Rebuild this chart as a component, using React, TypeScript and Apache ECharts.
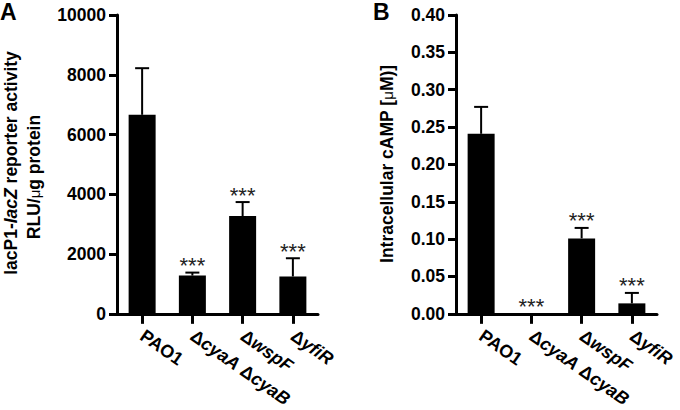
import React, { useEffect, useRef } from "react";
import * as echarts from "echarts";

const categories = ["PAO1", "ΔcyaA ΔcyaB", "ΔwspF", "ΔyfiR"];
const activityMean = [6660, 1280, 3270, 1250];
const activityUpper = [8220, 1380, 3740, 1860];
const activitySig = ["", "***", "***", "***"];
const campMean = [0.241, 0, 0.101, 0.014];
const campUpper = [0.277, 0, 0.115, 0.028];
const campSig = ["", "***", "***", "***"];

const FONT = "'Liberation Sans', Arial, Helvetica, sans-serif";

function catFormatter(v: string) {
  if (v === "PAO1") return "{n|PAO1}";
  return v
    .split(" ")
    .map((p) => "{d|Δ}{i|" + p.slice(1) + "}")
    .join("{n| }");
}

const catRich = {
  n: { fontFamily: FONT, fontWeight: "bold", fontSize: 18, color: "#000" },
  d: { fontFamily: FONT, fontWeight: "bold", fontSize: 18, color: "#000" },
  i: { fontFamily: FONT, fontWeight: "bold", fontStyle: "italic", fontSize: 18, color: "#000" },
};

function errSeries(idx: number, means: number[], uppers: number[], sig: string[]) {
  return {
    type: "custom",
    xAxisIndex: idx,
    yAxisIndex: idx,
    z: 5,
    data: means.map((m, i) => [i, m, uppers[i]]),
    renderItem: (params: any, api: any) => {
      const i = api.value(0);
      const m = api.value(1);
      const e = api.value(2);
      const top = api.coord([i, e]);
      const base = api.coord([i, m]);
      const children: any[] = [];
      if (e > m) {
        children.push({
          type: "line",
          shape: { x1: top[0], y1: base[1], x2: top[0], y2: top[1] },
          style: { stroke: "#000", lineWidth: 2 },
        });
        children.push({
          type: "line",
          shape: { x1: top[0] - 7, y1: top[1], x2: top[0] + 7, y2: top[1] },
          style: { stroke: "#000", lineWidth: 2 },
        });
      }
      const s = sig[params.dataIndex];
      if (s) {
        children.push({
          type: "text",
          x: top[0],
          y: top[1] - 7,
          style: {
            text: s,
            fontFamily: FONT,
            fontSize: 22,
            fill: "#222",
            align: "center",
            verticalAlign: "middle",
          },
        });
      }
      return { type: "group", children };
    },
  };
}

export default function App() {
  const ref = useRef<HTMLDivElement>(null);
  useEffect(() => {
    document.body.style.margin = "0";
    const chart = echarts.init(ref.current!, undefined, { renderer: "svg" });
    const axisLine = { show: true, lineStyle: { color: "#000", width: 3 } };
    const xAxisCommon = (gi: number) => ({
      type: "category",
      gridIndex: gi,
      data: categories,
      axisLine,
      axisTick: { show: true, alignWithLabel: true, length: 10, lineStyle: { color: "#000", width: 3 } },
      axisLabel: {
        interval: 0,
        rotate: -35,
        margin: 20,
        formatter: catFormatter,
        rich: catRich,
      },
      splitLine: { show: false },
    });
    const yLabel = {
      fontFamily: FONT,
      fontWeight: "bold",
      fontSize: 17.5,
      color: "#000",
      margin: 11,
    };
    chart.setOption({
      animation: false,
      backgroundColor: "#fff",
      grid: [
        { left: 117, top: 15, width: 201, height: 302 },
        { left: 456, top: 15, width: 201, height: 300 },
      ],
      xAxis: [xAxisCommon(0), xAxisCommon(1)],
      yAxis: [
        {
          type: "value",
          gridIndex: 0,
          min: 0,
          max: 10000,
          interval: 2000,
          axisLine,
          axisTick: { show: true, length: 8, lineStyle: { color: "#000", width: 3 } },
          axisLabel: { ...yLabel, formatter: (v: number) => String(v) },
          splitLine: { show: false },
        },
        {
          type: "value",
          gridIndex: 1,
          min: 0,
          max: 0.4,
          interval: 0.05,
          axisLine,
          axisTick: { show: true, length: 8, lineStyle: { color: "#000", width: 3 } },
          axisLabel: { ...yLabel, formatter: (v: number) => v.toFixed(2) },
          splitLine: { show: false },
        },
      ],
      series: [
        {
          type: "bar",
          xAxisIndex: 0,
          yAxisIndex: 0,
          data: activityMean,
          barWidth: 27,
          itemStyle: { color: "#000" },
        },
        errSeries(0, activityMean, activityUpper, activitySig),
        {
          type: "bar",
          xAxisIndex: 1,
          yAxisIndex: 1,
          data: campMean,
          barWidth: 27,
          itemStyle: { color: "#000" },
        },
        errSeries(1, campMean, campUpper, campSig),
      ],
      graphic: [
        {
          type: "text",
          left: 0,
          top: 0,
          style: { text: "A", fontFamily: FONT, fontWeight: "bold", fontSize: 23, fill: "#000" },
        },
        {
          type: "text",
          left: 373,
          top: 0,
          style: { text: "B", fontFamily: FONT, fontWeight: "bold", fontSize: 23, fill: "#000" },
        },
        {
          type: "text",
          x: 11,
          y: 163,
          rotation: Math.PI / 2,
          style: {
            text: "{n|lacP1-}{i|lacZ}{n| reporter activity}",
            align: "center",
            verticalAlign: "middle",
            rich: {
              n: { fontFamily: FONT, fontWeight: "bold", fontSize: 17.5, fill: "#000" },
              i: { fontFamily: FONT, fontWeight: "bold", fontStyle: "italic", fontSize: 17.5, fill: "#000" },
            },
          },
        },
        {
          type: "text",
          x: 34,
          y: 177,
          rotation: Math.PI / 2,
          style: {
            text: "{n|RLU/}{m|μ}{n|g protein}",
            align: "center",
            verticalAlign: "middle",
            rich: {
              n: { fontFamily: FONT, fontWeight: "bold", fontSize: 17.5, fill: "#000" },
              m: { fontFamily: FONT, fontWeight: "normal", fontSize: 15, fill: "#000" },
            },
          },
        },
        {
          type: "text",
          x: 387,
          y: 164,
          rotation: Math.PI / 2,
          style: {
            text: "{n|Intracellular cAMP [}{m|μ}{n|M)]}",
            align: "center",
            verticalAlign: "middle",
            rich: {
              n: { fontFamily: FONT, fontWeight: "bold", fontSize: 17.5, fill: "#000" },
              m: { fontFamily: FONT, fontWeight: "normal", fontSize: 15, fill: "#000" },
            },
          },
        },
      ],
    });
    return () => chart.dispose();
  }, []);
  return <div ref={ref} style={{ width: 680, height: 410 }} />;
}
